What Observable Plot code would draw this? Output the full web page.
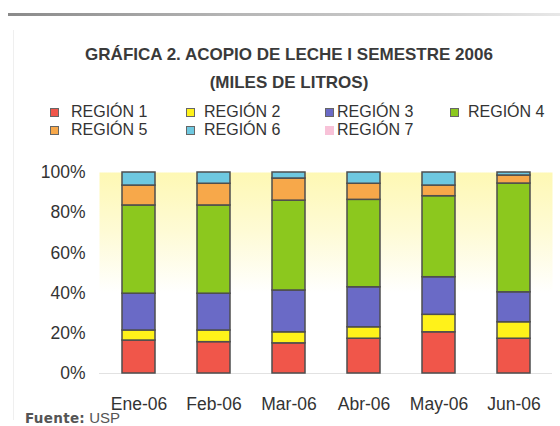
<!DOCTYPE html>
<html>
<head>
<meta charset="utf-8">
<script src="https://cdn.jsdelivr.net/npm/d3@7"></script>
<script src="https://cdn.jsdelivr.net/npm/@observablehq/plot@0.6"></script>
<style>
  html, body { margin: 0; padding: 0; background: #fff; }
  #wrap { position: relative; width: 560px; height: 426px; overflow: hidden; background: #fff; font-family: "Liberation Sans", Arial, sans-serif; }
  .topline { position: absolute; left: 8px; top: 13px; width: 552px; height: 3px;
    background: linear-gradient(to right, #8a8a8a, #b5b5b5 40%, #d0d0d0 80%, #e8e8e8); }
  .leftline { position: absolute; left: 13px; top: 30px; width: 1px; height: 390px; background: #efefef; }
  .title { position: absolute; left: 0; width: 578px; text-align: center; font-weight: bold; font-size: 17px; color: #3a3a3a; white-space: nowrap; }
  .leg { position: absolute; font-size: 16px; color: #333; white-space: nowrap; line-height: 1; }
  .sw { position: absolute; width: 7px; height: 7px; border: 1px solid #666; }
  #chart { position: absolute; left: 0; top: 150px; }
  .src { position: absolute; left: 25px; top: 409px; font-size: 15px; color: #555; white-space: nowrap; }
  .src b { font-family: "DejaVu Sans", sans-serif; font-size: 13.5px; letter-spacing: 0.3px; }
</style>
</head>
<body>
<div id="wrap">
  <div class="topline"></div>
  <div class="leftline"></div>
  <div class="title" style="top:45px">GRÁFICA 2. ACOPIO DE LECHE I SEMESTRE 2006</div>
  <div class="title" style="top:73px">(MILES DE LITROS)</div>
  <div id="legend"></div>
  <div id="chart"></div>
  <div class="src"><b>Fuente:</b> USP</div>
</div>
<script>
// ---- data ----
const months = ["Ene-06", "Feb-06", "Mar-06", "Abr-06", "May-06", "Jun-06"];
const regions = ["REGIÓN 1", "REGIÓN 2", "REGIÓN 3", "REGIÓN 4", "REGIÓN 5", "REGIÓN 6", "REGIÓN 7"];
const colors = ["#F0564A", "#FFF21A", "#6A6AC6", "#8CC81E", "#F7A84A", "#6EC8E0", "#F8C2D8"];
// share (%) of each region per month
const region1 = [16.4, 15.6, 15.0, 17.3, 20.5, 17.3];
const region2 = [5.0, 5.8, 5.5, 5.7, 8.7, 8.2];
const region3 = [18.3, 18.3, 20.8, 19.9, 18.7, 14.9];
const region4 = [43.9, 43.9, 44.7, 43.5, 40.3, 54.1];
const region5 = [9.9, 10.8, 11.0, 8.0, 5.3, 4.0];
const region6 = [6.5, 5.6, 3.0, 5.6, 6.5, 1.5];
const region7 = [0, 0, 0, 0, 0, 0];
const yTicks = [0, 20, 40, 60, 80, 100];

const series = [region1, region2, region3, region4, region5, region6, region7];
const rows = [];
series.forEach((vals, i) => vals.forEach((v, j) => {
  if (v > 0) rows.push({month: months[j], region: regions[i], value: v});
}));

// ---- legend (HTML) ----
const legPos = [
  {sx: 50, tx: 71, row: 0}, {sx: 186, tx: 204, row: 0}, {sx: 325, tx: 337, row: 0}, {sx: 450, tx: 468, row: 0},
  {sx: 50, tx: 71, row: 1}, {sx: 186, tx: 204, row: 1}, {sx: 325, tx: 337, row: 1}
];
const leg = document.getElementById("legend");
regions.forEach((r, i) => {
  const p = legPos[i];
  const top = p.row === 0 ? 104 : 122;
  const sw = document.createElement("div");
  sw.className = "sw";
  sw.style.left = p.sx + "px";
  sw.style.top = (top + 4) + "px";
  sw.style.background = colors[i];
  if (i === 6) sw.style.border = "1px solid " + colors[i];
  leg.appendChild(sw);
  const t = document.createElement("div");
  t.className = "leg";
  t.style.left = p.tx + "px";
  t.style.top = top + "px";
  t.textContent = r;
  leg.appendChild(t);
});

// ---- chart ----
const chart = Plot.plot({
  width: 560,
  height: 265,
  marginLeft: 99,
  marginRight: 8,
  marginTop: 22,
  marginBottom: 42,
  style: {fontFamily: "'Liberation Sans', Arial, sans-serif", fontSize: "17.5px", color: "#333", background: "transparent"},
  x: {domain: months, paddingInner: 0.56, paddingOuter: 0.28, label: null, tickSize: 0, tickPadding: 24},
  y: {domain: [0, 100], ticks: yTicks, tickFormat: d => d + "%", label: null, tickSize: 0, tickPadding: 14},
  color: {domain: regions, range: colors},
  marks: [
    Plot.frame({fill: "url(#bgGrad)", stroke: null}),
    Plot.ruleY([0], {stroke: "#e2e2e2"}),
    Plot.barY(rows, {x: "month", y: "value", fill: "region", stroke: "#4e4e4e", strokeWidth: 1.5})
  ]
});
const svg = d3.select(chart);
const defs = svg.insert("defs", ":first-child");
const g = defs.append("linearGradient").attr("id", "bgGrad").attr("x1", 0).attr("y1", 0).attr("x2", 0).attr("y2", 1);
g.append("stop").attr("offset", "0%").attr("stop-color", "#FEF8B4");
g.append("stop").attr("offset", "30%").attr("stop-color", "#FEFBD6");
g.append("stop").attr("offset", "60%").attr("stop-color", "#FFFFFF");
g.append("stop").attr("offset", "100%").attr("stop-color", "#FFFFFF");
document.getElementById("chart").appendChild(chart);
</script>
</body>
</html>
